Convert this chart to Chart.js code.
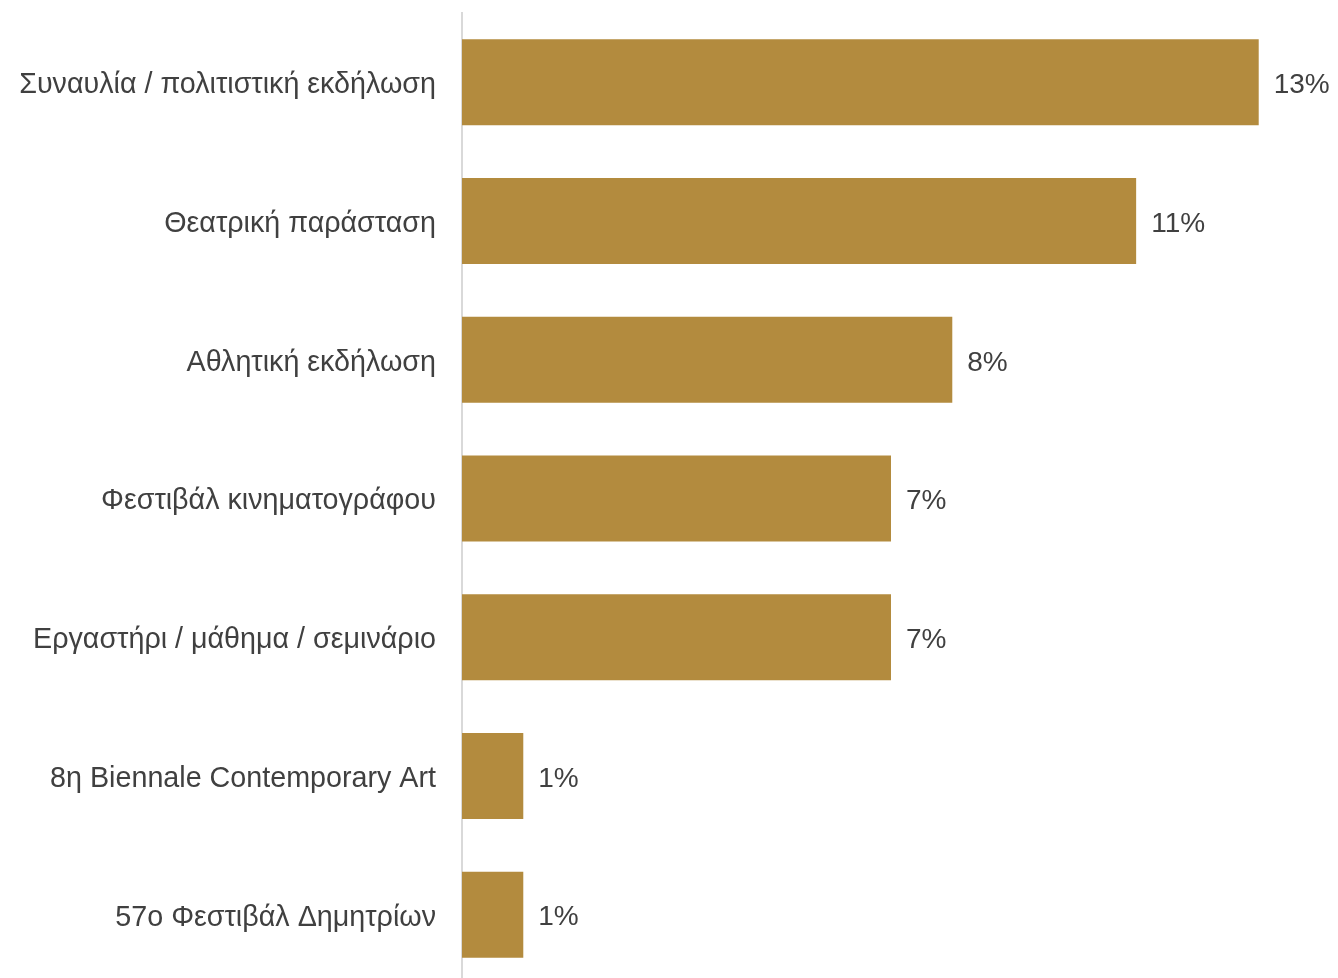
<!DOCTYPE html>
<html>
<head>
<meta charset="utf-8">
<script src="https://cdn.jsdelivr.net/npm/chart.js@4/dist/chart.umd.min.js"></script>
<style>
  html, body { margin: 0; padding: 0; background: #fff; overflow: hidden; }
</style>
</head>
<body>
<canvas id="myBarChart" width="1338" height="984"></canvas>
<script>
// κατηγορίες και τιμές (%)
const categories = [
  "Συναυλία / πολιτιστική εκδήλωση",
  "Θεατρική παράσταση",
  "Αθλητική εκδήλωση",
  "Φεστιβάλ κινηματογράφου",
  "Εργαστήρι / μάθημα / σεμινάριο",
  "8η Biennale Contemporary Art",
  "57ο Φεστιβάλ Δημητρίων"
];
const values = [13, 11, 8, 7, 7, 1, 1];

const FONT = "'Liberation Sans', Arial, sans-serif";
const TEXT = "#404040";

// ετικέτες κατηγοριών (αριστερά) και τιμών (στο τέλος κάθε μπάρας)
const textLabels = {
  id: 'textLabels',
  afterDatasetsDraw(chart) {
    const c = chart.ctx;
    const meta = chart.getDatasetMeta(0);
    const yScale = chart.scales.y;
    c.save();
    c.fillStyle = TEXT;
    c.textBaseline = 'middle';
    c.font = "28.7px " + FONT;
    c.textAlign = 'right';
    yScale.ticks.forEach((t, i) => {
      c.fillText(yScale.getLabelForValue(t.value), yScale.right - 26, yScale.getPixelForTick(i) + 3);
    });
    c.font = "28px " + FONT;
    c.textAlign = 'left';
    meta.data.forEach((bar, i) => {
      c.fillText(values[i] + '%', bar.x + 15, bar.y + 3);
    });
    c.restore();
  }
};

var ctx = document.getElementById("myBarChart");
var myBarChart = new Chart(ctx, {
  type: 'bar',
  data: {
    labels: categories,
    datasets: [{
      data: values,
      backgroundColor: "#B38B3E",
      borderWidth: 0,
      barPercentage: 0.62,
      categoryPercentage: 1
    }]
  },
  options: {
    indexAxis: 'y',
    responsive: false,
    animation: false,
    layout: { padding: { top: 13, right: 18, bottom: 0, left: 0 } },
    plugins: {
      legend: { display: false },
      tooltip: { enabled: false }
    },
    scales: {
      x: {
        display: false,
        min: 0,
        max: 14
      },
      y: {
        afterFit(scale) {
          scale.width = 462;
          scale.paddingTop = 0;
          scale.paddingBottom = 0;
        },
        grid: { display: false, drawTicks: false },
        border: { display: true, color: "#d9d9d9", width: 2 },
        ticks: { display: false }
      }
    }
  },
  plugins: [textLabels]
});
</script>
</body>
</html>
